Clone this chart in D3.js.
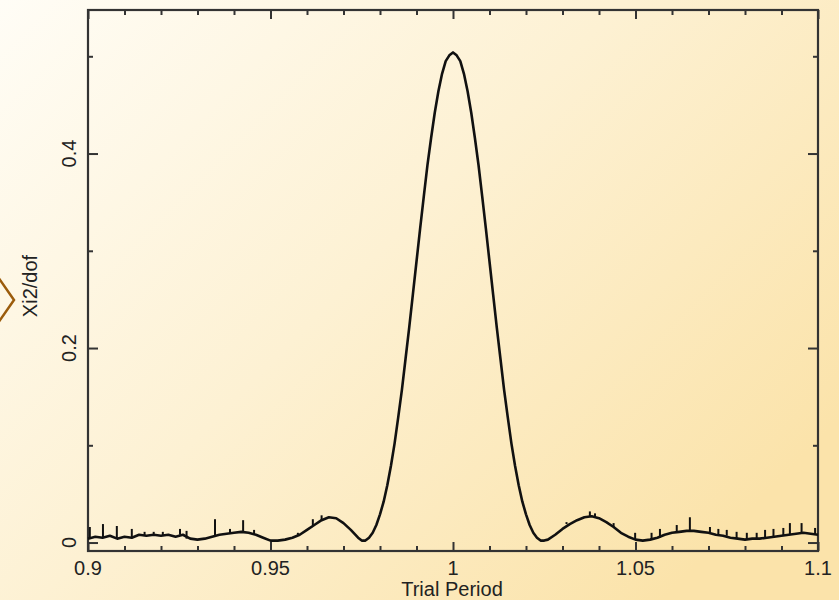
<!DOCTYPE html>
<meta charset="utf-8">
<style>

body {
  margin: 0;
}

text {
  font-family: "Liberation Sans", Arial, sans-serif;
  fill: #222;
}

.axis path {
  display: none;
}

.axis line {
  stroke: #333;
  stroke-width: 2px;
}

</style>
<svg></svg>
<script src="https://d3js.org/d3.v7.min.js"></script>
<script>

var width = 839,
    height = 600;

// trial periods and the chi2/dof
var periods = [
  0.900, 0.902, 0.904, 0.906, 0.908, 0.910, 0.912, 0.914, 0.916, 0.918,
  0.920, 0.922, 0.924, 0.926, 0.928, 0.930, 0.932, 0.934, 0.936, 0.938,
  0.940, 0.942, 0.944, 0.946, 0.948, 0.950, 0.952, 0.954, 0.956, 0.958,
  0.960, 0.962, 0.964, 0.966, 0.968, 0.970, 0.972, 0.974,
  0.975, 0.976, 0.977, 0.978, 0.979, 0.980, 0.981, 0.982, 0.983, 0.984,
  0.985, 0.986, 0.987, 0.988, 0.989, 0.990, 0.991, 0.992, 0.993, 0.994,
  0.995, 0.996, 0.997, 0.998, 0.999, 1.000, 1.001, 1.002, 1.003, 1.004,
  1.005, 1.006, 1.007, 1.008, 1.009, 1.010, 1.011, 1.012, 1.013, 1.014,
  1.015, 1.016, 1.017, 1.018, 1.019, 1.020, 1.021, 1.022, 1.023, 1.024,
  1.025,
  1.026, 1.028, 1.030, 1.032, 1.034, 1.036, 1.038, 1.040, 1.042, 1.044,
  1.046, 1.048, 1.050, 1.052, 1.054, 1.056, 1.058, 1.060, 1.062, 1.064,
  1.066, 1.068, 1.070, 1.072, 1.074, 1.076, 1.078, 1.080, 1.082, 1.084,
  1.086, 1.088, 1.090, 1.092, 1.094, 1.096, 1.098, 1.100
];

var xi2dof = [
  0.004, 0.006, 0.005, 0.007, 0.004, 0.006, 0.005, 0.008, 0.007, 0.008,
  0.007, 0.008, 0.006, 0.008, 0.004, 0.003, 0.004, 0.006, 0.008, 0.009,
  0.010, 0.011, 0.010, 0.008, 0.005, 0.002, 0.002, 0.003, 0.005, 0.008,
  0.013, 0.018, 0.023, 0.026, 0.025, 0.020, 0.013, 0.005,
  0.002, 0.002, 0.005, 0.010, 0.018, 0.029, 0.042, 0.059, 0.079, 0.102,
  0.129, 0.157, 0.189, 0.221, 0.255, 0.289, 0.323, 0.356, 0.388, 0.416,
  0.442, 0.464, 0.482, 0.495, 0.501, 0.504, 0.501, 0.495, 0.482, 0.464,
  0.442, 0.416, 0.388, 0.356, 0.323, 0.289, 0.255, 0.221, 0.189, 0.157,
  0.129, 0.102, 0.079, 0.059, 0.042, 0.029, 0.018, 0.010, 0.005, 0.002,
  0.002,
  0.003, 0.008, 0.014, 0.019, 0.023, 0.026, 0.027, 0.025, 0.021, 0.016,
  0.010, 0.006, 0.003, 0.002, 0.003, 0.005, 0.008, 0.010, 0.011, 0.012,
  0.012, 0.011, 0.010, 0.008, 0.007, 0.005, 0.004, 0.003, 0.004, 0.004,
  0.005, 0.006, 0.007, 0.008, 0.009, 0.010, 0.009, 0.008
];

// noise spikes on the baseline: period and top value
var spikePeriods = [
  0.9005, 0.9041, 0.9079, 0.9120, 0.9155, 0.9180, 0.9205, 0.9252, 0.9270, 0.9348,
  0.9389, 0.9425, 0.9455, 0.9575, 0.9616, 0.9640,
  1.0311, 1.0375, 1.0389, 1.0440, 1.0499, 1.0544, 1.0567, 1.0613, 1.0649, 1.0704,
  1.0727, 1.0750, 1.0777, 1.0805, 1.0832, 1.0855, 1.0878, 1.0905, 1.0923, 1.0955,
  1.0992
];
var spikeTops = [
  0.016, 0.019, 0.017, 0.014, 0.011, 0.011, 0.011, 0.014, 0.012, 0.024,
  0.014, 0.023, 0.013, 0.010, 0.024, 0.028,
  0.021, 0.032, 0.030, 0.020, 0.010, 0.010, 0.014, 0.018, 0.026, 0.016,
  0.014, 0.013, 0.011, 0.010, 0.010, 0.013, 0.014, 0.015, 0.020, 0.020,
  0.015
];

var xMajorTicks = [0.9, 0.95, 1.0, 1.05, 1.1],
    xTickLabels = ["0.9", "0.95", "1", "1.05", "1.1"],
    xMinorTicks = [0.91, 0.92, 0.93, 0.94, 0.96, 0.97, 0.98, 0.99,
                   1.01, 1.02, 1.03, 1.04, 1.06, 1.07, 1.08, 1.09];

var yMajorTicks = [0, 0.2, 0.4],
    yTickLabels = ["0", "0.2", "0.4"],
    yMinorTicks = [0.1, 0.3, 0.5];

// plot frame (note: "top" is taken by window.top, so prefix these)
var pLeft = 88, pRight = 818, pTop = 10, pBottom = 551;

var x = d3.scaleLinear()
    .domain([0.9, 1.1])
    .range([pLeft, pRight]);

var y = d3.scaleLinear()
    .domain([-0.0087, 0.5476])
    .range([pBottom, pTop]);

var svg = d3.select("svg")
    .attr("width", width)
    .attr("height", height);

// background wash
var grad = svg.append("defs").append("linearGradient")
    .attr("id", "bg")
    .attr("x1", 0).attr("y1", 0)
    .attr("x2", 1).attr("y2", 0.7);
grad.append("stop").attr("offset", 0).attr("stop-color", "#fffdf6");
grad.append("stop").attr("offset", 0.5).attr("stop-color", "#fdf1d3");
grad.append("stop").attr("offset", 1).attr("stop-color", "#fbe3aa");

svg.append("rect")
    .attr("width", width)
    .attr("height", height)
    .attr("fill", "url(#bg)");

// the little brown chevron on the left edge
svg.append("polyline")
    .attr("points", "-2,277 14,300 -2,323")
    .attr("fill", "none")
    .attr("stroke", "#9b5c0c")
    .attr("stroke-width", 2.5);

// ticks, pointing inward on all four sides
function ticks(axis, vals, size, tx, ty) {
  svg.append("g")
      .attr("class", "axis")
      .attr("transform", "translate(" + tx + "," + ty + ")")
      .call(axis.tickValues(vals).tickSizeInner(size).tickSizeOuter(0).tickFormat(""));
}

ticks(d3.axisBottom(x), xMajorTicks, -9, 0, pBottom);
ticks(d3.axisBottom(x), xMinorTicks, -5, 0, pBottom);
ticks(d3.axisTop(x), xMajorTicks, -9, 0, pTop);
ticks(d3.axisTop(x), xMinorTicks, -5, 0, pTop);
ticks(d3.axisLeft(y), yMajorTicks, -10, pLeft, 0);
ticks(d3.axisLeft(y), yMinorTicks, -5, pLeft, 0);
ticks(d3.axisRight(y), yMajorTicks, -10, pRight, 0);
ticks(d3.axisRight(y), yMinorTicks, -5, pRight, 0);

svg.append("rect")
    .attr("x", pLeft)
    .attr("y", pTop)
    .attr("width", pRight - pLeft)
    .attr("height", pBottom - pTop)
    .attr("fill", "none")
    .attr("stroke", "#333")
    .attr("stroke-width", 2.2);

// tick labels
svg.append("g").selectAll("text")
    .data(xMajorTicks)
    .enter().append("text")
    .attr("x", function(d) { return x(d); })
    .attr("y", 575)
    .attr("text-anchor", "middle")
    .attr("font-size", 20)
    .text(function(d, i) { return xTickLabels[i]; });

svg.append("g").selectAll("text")
    .data(yMajorTicks)
    .enter().append("text")
    .attr("transform", function(d) { return "translate(76," + y(d) + ") rotate(-90)"; })
    .attr("text-anchor", "middle")
    .attr("font-size", 20)
    .text(function(d, i) { return yTickLabels[i]; });

// axis titles
svg.append("text")
    .attr("x", 452)
    .attr("y", 596)
    .attr("text-anchor", "middle")
    .attr("font-size", 20)
    .text("Trial Period");

svg.append("text")
    .attr("transform", "translate(37,286) rotate(-90)")
    .attr("text-anchor", "middle")
    .attr("font-size", 20)
    .text("Xi2/dof");

// the curve
var line = d3.line()
    .x(function(d) { return x(d[0]); })
    .y(function(d) { return y(d[1]); });

var pts = periods.map(function(p, i) { return [p, xi2dof[i]]; });

svg.append("path")
    .datum(pts)
    .attr("d", line)
    .attr("fill", "none")
    .attr("stroke", "#111")
    .attr("stroke-width", 2.6)
    .attr("stroke-linejoin", "round");

// spikes drop to the nearest curve point
var near = d3.bisector(function(d) { return d; }).center;

svg.append("g").selectAll("line")
    .data(spikePeriods)
    .enter().append("line")
    .attr("x1", function(d) { return x(d); })
    .attr("x2", function(d) { return x(d); })
    .attr("y1", function(d) { return y(xi2dof[near(periods, d)]); })
    .attr("y2", function(d, i) { return y(spikeTops[i]); })
    .attr("stroke", "#111")
    .attr("stroke-width", 2);

</script>
